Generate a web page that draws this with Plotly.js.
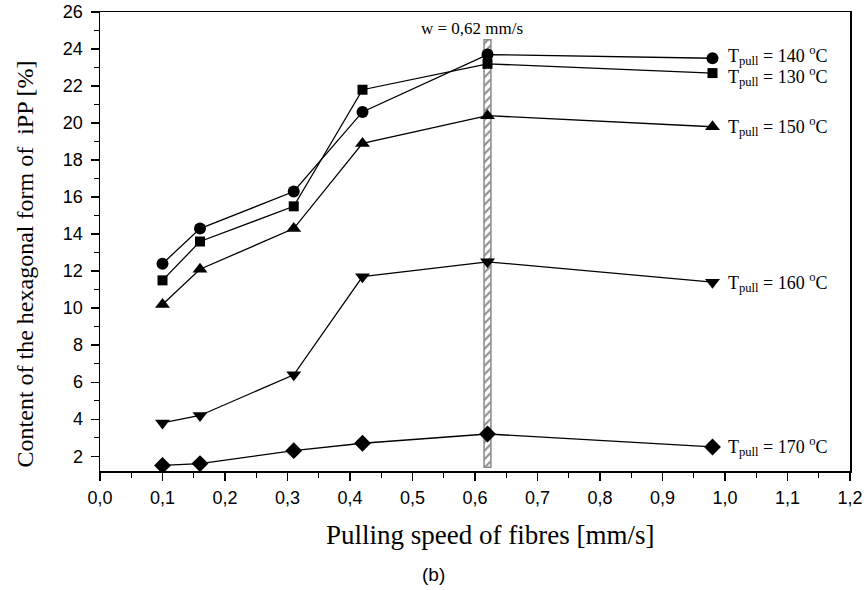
<!DOCTYPE html>
<html>
<head>
<meta charset="utf-8">
<script src="https://cdn.plot.ly/plotly-3.0.1.min.js"></script>
<style>html,body{margin:0;padding:0;background:#fff}#chart{width:867px;height:590px}</style>
</head>
<body>
<div id="chart"></div>
<script>
var speeds = [0.1, 0.16, 0.31, 0.42, 0.62, 0.98];
var t140 = [12.4, 14.3, 16.3, 20.6, 23.7, 23.5];
var t130 = [11.5, 13.6, 15.5, 21.8, 23.2, 22.7];
var t150 = [10.2, 12.1, 14.3, 18.9, 20.4, 19.8];
var t160 = [3.8, 4.2, 6.4, 11.7, 12.5, 11.4];
var t170 = [1.5, 1.6, 2.3, 2.7, 3.2, 2.5];
var seriesLabels = ["T<sub>pull</sub> = 140 <sup>o</sup>C", "T<sub>pull</sub> = 130 <sup>o</sup>C", "T<sub>pull</sub> = 150 <sup>o</sup>C", "T<sub>pull</sub> = 160 <sup>o</sup>C", "T<sub>pull</sub> = 170 <sup>o</sup>C"];
var markerSymbols = ["circle", "square", "triangle-up", "triangle-down", "diamond"];
var xTickVals = [0, 0.1, 0.2, 0.3, 0.4, 0.5, 0.6, 0.7, 0.8, 0.9, 1.0, 1.1, 1.2];
var xTickText = ["0,0","0,1","0,2","0,3","0,4","0,5","0,6","0,7","0,8","0,9","1,0","1,1","1,2"];
var markedSpeed = [0.62];
var bandTop = [24.5];
var bandBase = [1.4];
var markedLabel = "w = 0,62 mm/s";

var serif = "Liberation Serif, Times New Roman, serif";
var sans = "Liberation Sans, Arial, sans-serif";

var allSeries = [t140, t130, t150, t160, t170];
var traces = [{
  type: "bar", x: markedSpeed, y: [bandTop[0] - bandBase[0]], base: bandBase,
  width: 0.011,
  marker: {color: "#ffffff", line: {color: "#8a8a8a", width: 1.5},
           pattern: {shape: "/", fgcolor: "#8a8a8a", bgcolor: "#ffffff", size: 6, solidity: 0.35}},
  hoverinfo: "skip", showlegend: false
}];
allSeries.forEach(function(s, i) {
  traces.push({
    type: "scatter", mode: "lines+markers", x: speeds, y: s,
    line: {color: "#000", width: 1.3},
    marker: {symbol: markerSymbols[i], size: [12, 10, 13, 13, 13][i], color: "#000"},
    showlegend: false
  });
});

var labelDy = [3, -3, 0, 0, 0];
var annotations = [];
allSeries.forEach(function(s, i) {
  annotations.push({
    x: speeds[speeds.length - 1], y: s[s.length - 1], xref: "x", yref: "y",
    text: seriesLabels[i], showarrow: false, xanchor: "left", xshift: 13, yshift: labelDy[i],
    font: {family: serif, size: 18, color: "#000"}
  });
});
annotations.push({
  x: markedSpeed[0], y: bandTop[0], xref: "x", yref: "y", text: markedLabel,
  showarrow: false, yanchor: "bottom", yshift: 0, xshift: -16, font: {family: serif, size: 17, color: "#000"}
});
annotations.push({
  x: -0.12, y: 0.45, xref: "paper", yref: "paper", text: "Content of the hexagonal form of  iPP [%]",
  textangle: -90, showarrow: false, font: {family: serif, size: 24, color: "#000"}
});
annotations.push({
  x: 0.52, y: -0.14, xref: "paper", yref: "paper", text: "Pulling speed of fibres [mm/s]",
  showarrow: false, yanchor: "middle", font: {family: serif, size: 27, color: "#000"}
});
annotations.push({
  x: 0.445, y: -0.225, xref: "paper", yref: "paper", text: "(b)",
  showarrow: false, yanchor: "middle", font: {family: sans, size: 19, color: "#000"}
});

var layout = {
  width: 867, height: 590,
  margin: {l: 100, r: 17, t: 12, b: 119},
  paper_bgcolor: "#fff", plot_bgcolor: "#fff",
  showlegend: false,
  xaxis: {
    range: [0, 1.2], tickvals: xTickVals, ticktext: xTickText,
    ticks: "outside", ticklen: 8, tickwidth: 1.3, tickcolor: "#000",
    minor: {dtick: 0.05, tick0: 0, ticks: "outside", ticklen: 5, tickwidth: 1.3, tickcolor: "#000"},
    showline: true, linecolor: "#000", linewidth: 1.5, mirror: true,
    showgrid: false, zeroline: false, ticklabelstandoff: 2,
    tickfont: {family: sans, size: 18, color: "#000"}
  },
  yaxis: {
    range: [1.2, 26], tick0: 2, dtick: 2,
    ticks: "outside", ticklen: 8, tickwidth: 1.3, tickcolor: "#000",
    minor: {dtick: 1, tick0: 1, ticks: "outside", ticklen: 5, tickwidth: 1.3, tickcolor: "#000"},
    showline: true, linecolor: "#000", linewidth: 1.5, mirror: true,
    showgrid: false, zeroline: false, ticklabelstandoff: 4,
    tickfont: {family: sans, size: 18, color: "#000"}
  },
  annotations: annotations
};

Plotly.newPlot("chart", traces, layout, {displayModeBar: false, staticPlot: true});
</script>
</body>
</html>
